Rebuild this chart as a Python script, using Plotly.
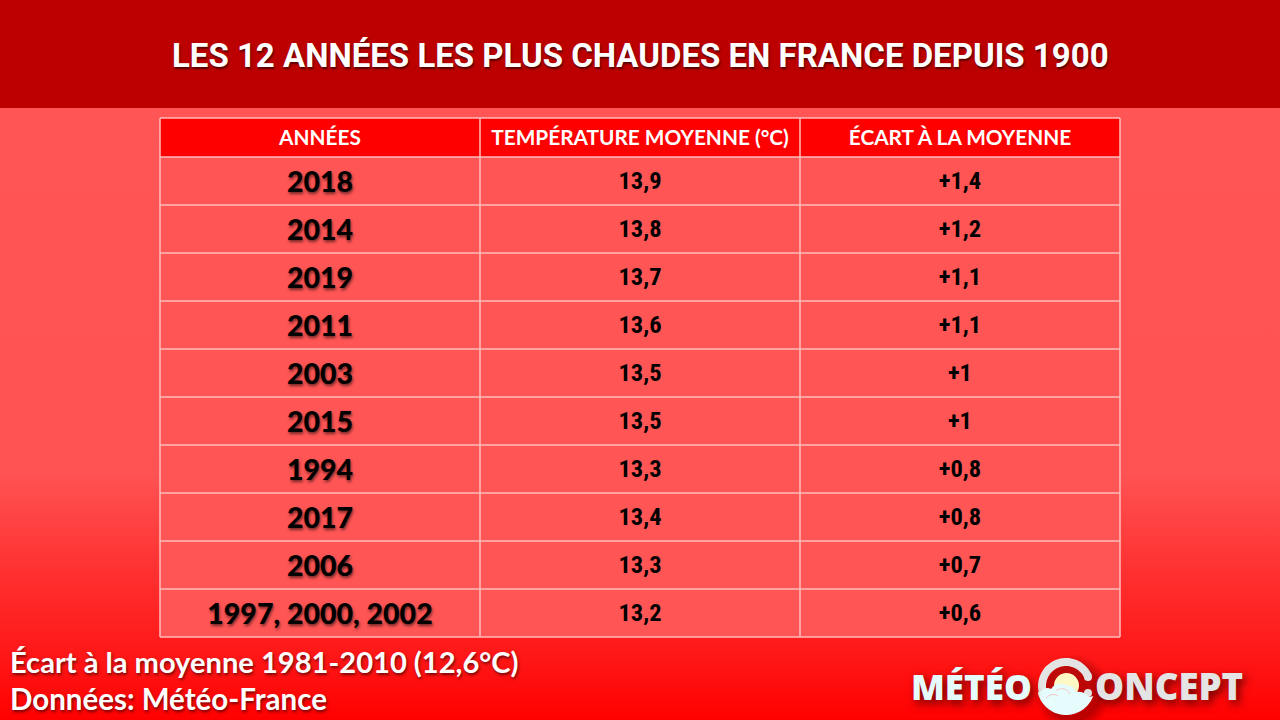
import math
import plotly.graph_objects as go

title = "LES 12 ANNÉES LES PLUS CHAUDES EN FRANCE DEPUIS 1900"
headers = ["ANNÉES", "TEMPÉRATURE MOYENNE (°C)", "ÉCART À LA MOYENNE"]
years = ["2018", "2014", "2019", "2011", "2003", "2015", "1994", "2017", "2006", "1997, 2000, 2002"]
temps = ["13,9", "13,8", "13,7", "13,6", "13,5", "13,5", "13,3", "13,4", "13,3", "13,2"]
gaps = ["+1,4", "+1,2", "+1,1", "+1,1", "+1", "+1", "+0,8", "+0,8", "+0,7", "+0,6"]
notes = ["Écart à la moyenne 1981-2010 (12,6°C)", "Données: Météo-France"]

W, H = 1280, 720
# table geometry, in pixels
left, col_w = 160, 320
top, head_h, row_h = 118, 39, 48
body_top = top + head_h
body_bottom = body_top + row_h * len(years)
right = left + col_w * 3
col_mid = [left + col_w * (i + 0.5) for i in range(3)]
row_mid = [body_top + row_h * (i + 0.5) for i in range(len(years))]

shadow = "1px 2px 3px rgba(0,0,0,0.55)"
narrow = "Roboto Condensed, Open Sans Condensed, Liberation Sans Narrow, DejaVu Sans Condensed, Lato"


def box(x0, x1, y0, y1, **kw):
    return go.Scatter(x=[x0, x1, x1, x0, x0], y=[y0, y0, y1, y1, y0], mode="none", fill="toself",
                      hoverinfo="skip", **kw)


def text_col(x, y, labels, font):
    return go.Scatter(x=x, y=y, text=labels, mode="text", textposition="middle center",
                      hoverinfo="skip", textfont=font)


fig = go.Figure()

# background, axes run in pixels
fig.add_trace(box(0, W, 108, H, fillgradient=dict(
    type="vertical", start=108, stop=H,
    colorscale=[[0, "#ff5555"], [0.6, "#ff5252"], [0.75, "#ff3232"], [0.9, "#ff1616"], [1, "#ff0000"]],
)))
fig.add_trace(box(left, right, top, body_top, fillcolor="#ff0000"))
fig.add_trace(box(left, right, body_top, body_bottom, fillcolor="#ff5555"))

# table grid
grid_x, grid_y = [], []
for i in range(4):
    grid_x += [left + col_w * i, left + col_w * i, None]
    grid_y += [top, body_bottom, None]
for y in [top] + [body_top + row_h * i for i in range(len(years) + 1)]:
    grid_x += [left, right, None]
    grid_y += [y, y, None]
fig.add_trace(go.Scatter(x=grid_x, y=grid_y, mode="lines", hoverinfo="skip",
                         line=dict(color="#ffbcbc", width=1.5)))

fig.add_trace(text_col(col_mid, [top + head_h / 2 + 2] * 3, headers,
                       dict(family="Lato", size=20.8, color="white", weight=700)))
fig.add_trace(text_col([col_mid[0]] * len(years), [m + 4 for m in row_mid], years,
                       dict(family="Lato", size=28.5, color="black", weight=900, shadow=shadow)))
fig.add_trace(text_col([col_mid[1]] * len(temps), [m + 2 for m in row_mid], temps,
                       dict(family=narrow, size=24.5, color="black", weight=700)))
fig.add_trace(text_col([col_mid[2]] * len(gaps), [m + 2 for m in row_mid], gaps,
                       dict(family=narrow, size=24.5, color="black", weight=700)))

fig.update_layout(
    width=W, height=H, margin=dict(l=0, r=0, t=0, b=0),
    paper_bgcolor="#ff5555", plot_bgcolor="rgba(0,0,0,0)", showlegend=False,
    xaxis=dict(range=[0, W], visible=False, fixedrange=True),
    yaxis=dict(range=[H, 0], visible=False, fixedrange=True),
)

fig.add_shape(type="rect", x0=0, x1=W, y0=0, y1=108, fillcolor="#bc0000", line_width=0)
fig.add_annotation(
    x=640, y=55, text=title, showarrow=False,
    font=dict(family="Roboto", size=33, color="white", weight=700, shadow="1px 2px 2px rgba(60,0,0,0.8)"),
)
fig.add_annotation(x=8, y=661, text=notes[0], showarrow=False, xanchor="left",
                   font=dict(family="Lato", size=29.1, color="white", weight=700, shadow=shadow))
fig.add_annotation(x=8, y=698, text=notes[1], showarrow=False, xanchor="left",
                   font=dict(family="Lato", size=29.5, color="white", weight=700, shadow=shadow))


def arc(cx, cy, r, start, stop, n=40):
    pts = []
    for k in range(n + 1):
        a = math.radians(start + (stop - start) * k / n)
        pts.append((cx + r * math.cos(a), cy - r * math.sin(a)))
    return pts


def to_path(pts):
    return "M " + " L ".join(f"{x:.1f} {y:.1f}" for x, y in pts)


# logo: soft shadow under the disc, then ring, sun and cloud
for r, a in [(38, 0.06), (35, 0.08), (32, 0.1), (29, 0.14)]:
    fig.add_shape(type="circle", x0=1073 - r, x1=1073 + r, y0=693 - r, y1=693 + r,
                  fillcolor=f"rgba(60,0,0,{a})", line_width=0)
fig.add_shape(type="path", path=to_path(arc(1066, 686, 24, 22, 200)),
              line=dict(color="#e4e4e4", width=8), fillcolor="rgba(0,0,0,0)")
fig.add_shape(type="circle", x0=1084, x1=1092, y0=673, y1=681, fillcolor="#e4e4e4", line_width=0)
fig.add_shape(type="circle", x0=1084, x1=1092, y0=689, y1=697, fillcolor="#e4e4e4", line_width=0)
fig.add_shape(type="circle", x0=1054, x1=1079, y0=673, y1=698, fillcolor="#fdf8c4", line_width=0)
cloud_top = "M 1040 692 Q 1046 686 1051 689 Q 1056 681 1066 685 Q 1075 686 1076 692 Q 1084 691 1089 697 "
cloud_low = " L ".join(f"{x:.1f} {y:.1f}" for x, y in arc(1066, 686, 29, -20, -167))
fig.add_shape(type="path", path=cloud_top + "L " + cloud_low + " Z", fillcolor="#e6fbfb", line_width=0)
fig.add_shape(type="path", path="M 1046 698 Q 1052 692 1058 696", line=dict(color="#f4c8c8", width=1),
              fillcolor="rgba(0,0,0,0)")
fig.add_shape(type="path", path="M 1056 690 Q 1066 686 1070 694", line=dict(color="#f4c8c8", width=1),
              fillcolor="rgba(0,0,0,0)")

logo_shadow = "3px 4px 8px rgba(70,0,0,0.8)"
fig.add_annotation(x=1034, y=686, text="MÉTÉO", showarrow=False, xanchor="right",
                   font=dict(family="Open Sans", size=35, color="#e6fbfb", weight=800, shadow=logo_shadow))
fig.add_annotation(x=1093, y=686, text="ONCEPT", showarrow=False, xanchor="left",
                   font=dict(family="Open Sans", size=36.6, color="#e4e4e4", weight=800, shadow=logo_shadow))

# the page body has a default margin, the figure has to sit flush
fig.write_html("out.html", config={"displayModeBar": False},
               post_script="document.body.style.margin = '0';")
